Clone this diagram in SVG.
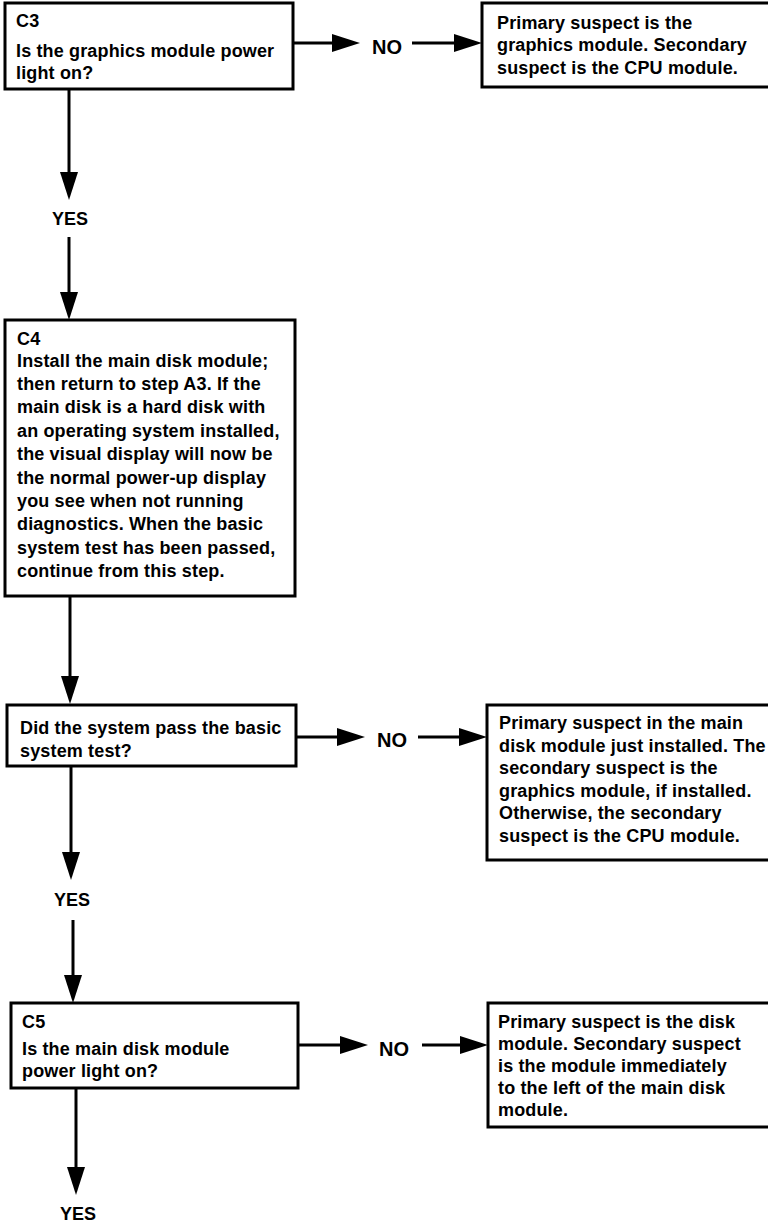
<svg xmlns="http://www.w3.org/2000/svg" width="768" height="1225" viewBox="0 0 768 1225">
<style>
  .box { fill: #ffffff; stroke: #000000; stroke-width: 3; }
  .t { font-family: "Liberation Sans", Arial, Helvetica, sans-serif; font-size: 18px; font-weight: bold; fill: #000000; letter-spacing: 0.15px; }
  .no { font-family: "Liberation Sans", Arial, Helvetica, sans-serif; font-size: 20px; font-weight: bold; fill: #000000; }
  .yes { font-family: "Liberation Sans", Arial, Helvetica, sans-serif; font-size: 18px; font-weight: bold; fill: #000000; text-anchor: middle; }
  .c { fill: none; stroke: #000000; stroke-width: 3; marker-end: url(#ah); }
</style>
<defs>
  <marker id="ah" viewBox="0 0 28 18" refX="18" refY="9" markerWidth="28" markerHeight="18" markerUnits="userSpaceOnUse" orient="auto">
    <path d="M0,0 L28,9 L0,18 Z" fill="#000000"/>
  </marker>
</defs>
<rect width="768" height="1225" fill="#ffffff"/>

<g id="connectors">
  <path class="c" d="M69,89 V190"/>
  <path class="c" d="M69,237 V310"/>
  <path class="c" d="M70,596 V694"/>
  <path class="c" d="M71,767 V870"/>
  <path class="c" d="M73,920 V993"/>
  <path class="c" d="M76,1088 V1185"/>
  <path class="c" d="M293,43 H350"/>
  <path class="c" d="M412,43 H472"/>
  <path class="c" d="M296,737 H355"/>
  <path class="c" d="M418,737 H477"/>
  <path class="c" d="M298,1045 H358"/>
  <path class="c" d="M422,1045 H478"/>
  <text class="yes" x="70" y="225">YES</text>
  <text class="yes" x="72" y="906">YES</text>
  <text class="yes" x="78" y="1220">YES</text>
  <text class="no" x="372" y="54">NO</text>
  <text class="no" x="377" y="747">NO</text>
  <text class="no" x="379" y="1056">NO</text>
</g>

<g id="c3">
  <rect class="box" x="5" y="3" width="288" height="86"/>
  <text class="t" x="16" y="27">C3</text>
  <text class="t" x="16" y="57">Is the graphics module power</text>
  <text class="t" x="16" y="79">light on?</text>
</g>

<g id="c3-no">
  <rect class="box" x="482" y="3" width="290" height="84"/>
  <text class="t" x="497" y="29">Primary suspect is the</text>
  <text class="t" x="497" y="51">graphics module. Secondary</text>
  <text class="t" x="497" y="74">suspect is the CPU module.</text>
</g>

<g id="c4">
  <rect class="box" x="5" y="320" width="290" height="276"/>
  <text class="t" x="17" y="345">C4</text>
  <text class="t" x="17" y="367">Install the main disk module;</text>
  <text class="t" x="17" y="390">then return to step A3. If the</text>
  <text class="t" x="17" y="413">main disk is a hard disk with</text>
  <text class="t" x="17" y="437">an operating system installed,</text>
  <text class="t" x="17" y="460">the visual display will now be</text>
  <text class="t" x="17" y="484">the normal power-up display</text>
  <text class="t" x="17" y="507">you see when not running</text>
  <text class="t" x="17" y="530">diagnostics. When the basic</text>
  <text class="t" x="17" y="554">system test has been passed,</text>
  <text class="t" x="17" y="577">continue from this step.</text>
</g>

<g id="basic-test">
  <rect class="box" x="7" y="705" width="289" height="61"/>
  <text class="t" x="20" y="734">Did the system pass the basic</text>
  <text class="t" x="20" y="757">system test?</text>
</g>

<g id="basic-test-no">
  <rect class="box" x="487" y="705" width="285" height="155"/>
  <text class="t" x="499" y="729">Primary suspect in the main</text>
  <text class="t" x="499" y="752">disk module just installed. The</text>
  <text class="t" x="499" y="774">secondary suspect is the</text>
  <text class="t" x="499" y="797">graphics module, if installed.</text>
  <text class="t" x="499" y="819">Otherwise, the secondary</text>
  <text class="t" x="499" y="842">suspect is the CPU module.</text>
</g>

<g id="c5">
  <rect class="box" x="11" y="1003" width="287" height="85"/>
  <text class="t" x="22" y="1028">C5</text>
  <text class="t" x="22" y="1055">Is the main disk module</text>
  <text class="t" x="22" y="1077">power light on?</text>
</g>

<g id="c5-no">
  <rect class="box" x="488" y="1003" width="284" height="124"/>
  <text class="t" x="498" y="1028">Primary suspect is the disk</text>
  <text class="t" x="498" y="1050">module. Secondary suspect</text>
  <text class="t" x="498" y="1072">is the module immediately</text>
  <text class="t" x="498" y="1094">to the left of the main disk</text>
  <text class="t" x="498" y="1116">module.</text>
</g>
</svg>
